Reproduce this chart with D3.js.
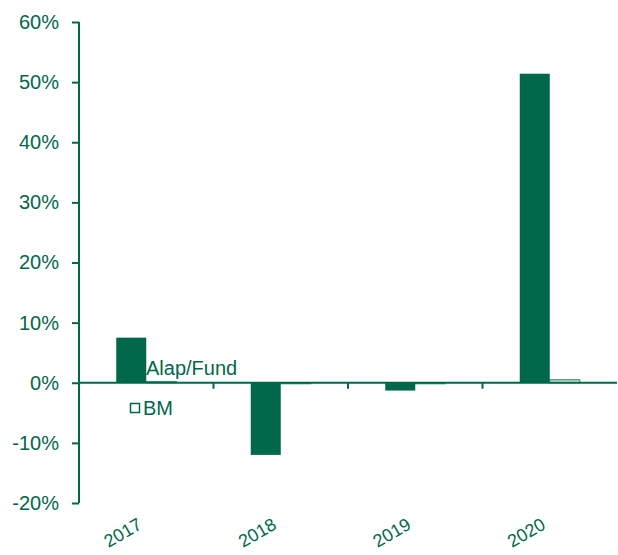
<!DOCTYPE html>
<html><head><meta charset="utf-8">
<script src="https://cdn.jsdelivr.net/npm/d3@7"></script>
<style>body{margin:0;background:#fff;} text{font-family:"Liberation Sans",Arial,sans-serif;}</style>
</head><body><svg id="c" width="618" height="555"></svg>
<script>
const years = ["2017","2018","2019","2020"];
const fund = [7.5, -12.0, -1.3, 51.4];
const bm = [0.2, -0.1, -0.1, 0.5];
const yTicks = [-20,-10,0,10,20,30,40,50,60];
const seriesNames = ["Alap/Fund","BM"];
const green = "#00684a";

const svg = d3.select("#c");
const x = d3.scaleBand().domain(years).range([79, 617]);
const y = d3.scaleLinear().domain([-20, 60]).range([503, 22]);
const bw = 30;

// y axis
const ya = svg.append("g").attr("transform","translate(79,0)")
  .call(d3.axisLeft(y).tickValues(yTicks).tickSize(7).tickPadding(13).tickFormat(d=>d+"%"));
ya.select(".domain").attr("stroke",green).attr("stroke-width",2).attr("d","M0,22V503");
ya.selectAll(".tick line").attr("stroke",green).attr("stroke-width",2);
ya.selectAll(".tick text").attr("fill",green).style("font-size","20px").attr("font-family","Liberation Sans, Arial, sans-serif");

// bars
svg.append("g").selectAll("rect.f").data(years).join("rect")
  .attr("x", d=>x(d)+x.bandwidth()/2-bw)
  .attr("y", (d,i)=>y(Math.max(0,fund[i])))
  .attr("width", bw)
  .attr("height",(d,i)=>Math.abs(y(fund[i])-y(0)))
  .attr("fill", green);
svg.append("g").selectAll("rect.b").data(years).join("rect")
  .attr("x", d=>x(d)+x.bandwidth()/2)
  .attr("y", (d,i)=>y(Math.max(0,bm[i])))
  .attr("width", bw)
  .attr("height",(d,i)=>Math.max(1,Math.abs(y(bm[i])-y(0))))
  .attr("fill", "#cfe3da").attr("stroke", green).attr("stroke-width",1.2).attr("stroke-opacity",0.7);

// x axis at zero
const xa = svg.append("g").attr("transform",`translate(0,${y(0)})`);
xa.append("line").attr("x1",79).attr("x2",617).attr("stroke",green).attr("stroke-width",2);
xa.selectAll("line.t").data(years.slice(1)).join("line")
  .attr("x1",d=>x(d)).attr("x2",d=>x(d)).attr("y1",0).attr("y2",6)
  .attr("stroke",green).attr("stroke-width",2);

// year labels
svg.append("g").selectAll("text").data(years).join("text")
  .attr("transform", d=>`translate(${x(d)+x.bandwidth()/2-3},528) rotate(-30)`)
  .attr("text-anchor","end").attr("fill",green).style("font-size","18px").text(d=>d);

// legend
svg.append("text").attr("x",146).attr("y",375).attr("fill",green).style("font-size","20px").text(seriesNames[0]);
svg.append("rect").attr("x",130.5).attr("y",403.5).attr("width",9).attr("height",9).attr("fill","#fff").attr("stroke",green).attr("stroke-width",1.5);
svg.append("text").attr("x",143).attr("y",415).attr("fill",green).style("font-size","20px").text(seriesNames[1]);
</script></body></html>
